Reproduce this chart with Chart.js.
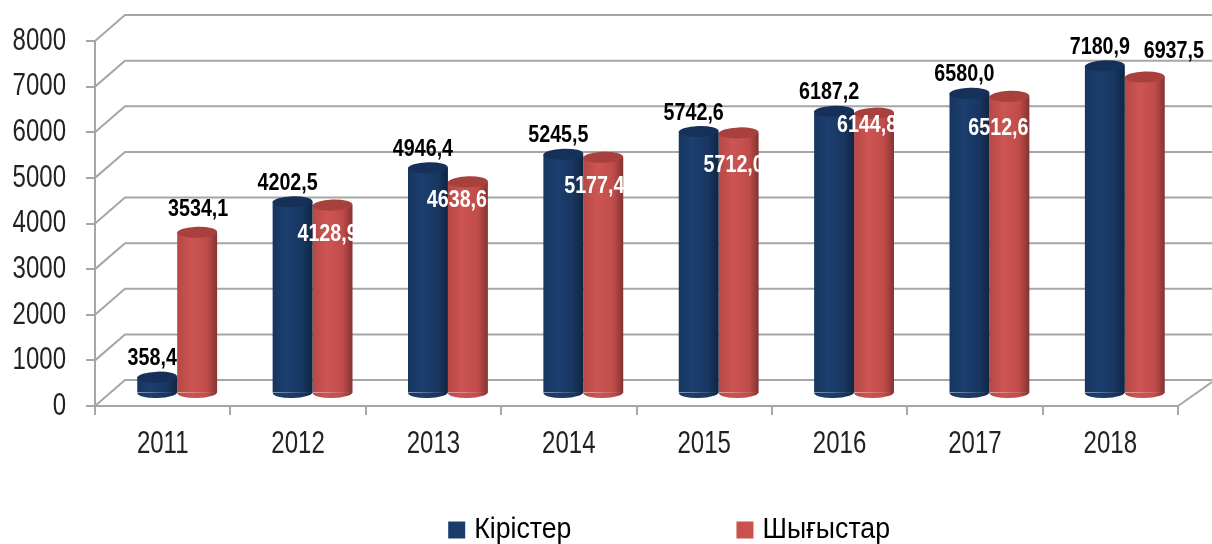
<!DOCTYPE html>
<html>
<head>
<meta charset="utf-8">
<style>
  html, body { margin: 0; padding: 0; background: #fff; }
  canvas { display: block; }
</style>
</head>
<body>
<canvas id="chart" width="1212" height="544"></canvas>
<script src="https://cdn.jsdelivr.net/npm/chart.js@4/dist/chart.umd.min.js"></script>
<script>
// DATA
const years = ['2011', '2012', '2013', '2014', '2015', '2016', '2017', '2018'];
const kirister = [358.4, 4202.5, 4946.4, 5245.5, 5742.6, 6187.2, 6580.0, 7180.9];
const shygystar = [3534.1, 4128.9, 4638.6, 5177.4, 5712.0, 6144.8, 6512.6, 6937.5];
const yTicks = [0, 1000, 2000, 3000, 4000, 5000, 6000, 7000, 8000];

// label placement relative to the top of the red bar
const redLabelDx = [1, -5, -11, -9, -5, -7, -11, 29];
const redLabelDy = [-24, 28, 18, 28, 31, 11, 31, -27];

const FONT = '"Liberation Sans", sans-serif';
const GRID = '#a6a6a6';
const CAT_PCT = 0.59;

// colours: left, light, mid, right, cap
const BLUE = ['#173660', '#1c3f70', '#183660', '#0f2643', '#15315a'];
const RED = ['#b54846', '#cc5552', '#c04c4a', '#853331', '#a8403e'];
const SWATCH = { blue: '#1a3c6b', red: '#c9524f' };

// no narrow font installed: squeeze the text per font size
const squeeze = { 24: 0.82, 32: 0.75, 30: 0.89 };
const canvas = document.getElementById('chart');
const c2d = canvas.getContext('2d');
const rawFillText = c2d.fillText.bind(c2d);
c2d.fillText = (text, x, y, maxWidth) => {
  const size = parseInt(c2d.font.match(/(\d+)px/)[1]);
  const w = c2d.measureText(text).width * (squeeze[size] || 1);
  // legend text sits closer to its swatch than Chart.js puts it
  rawFillText(text, size === 30 ? x - 6 : x, y, maxWidth || w);
};

function barFill(ctx, colors) {
  if (ctx.type !== 'data') return colors[1];
  const xs = ctx.chart.scales.x;
  const step = xs.getPixelForValue(1) - xs.getPixelForValue(0);
  const w = step * CAT_PCT / 2;
  const c = xs.getPixelForValue(ctx.dataIndex);
  const left = ctx.datasetIndex === 0 ? c - w : c;
  const g = ctx.chart.ctx.createLinearGradient(left, 0, left + w, 0);
  g.addColorStop(0, colors[0]);
  g.addColorStop(0.35, colors[1]);
  g.addColorStop(0.75, colors[2]);
  g.addColorStop(1, colors[3]);
  return g;
}

// back wall and floor behind the bars
const wallDx = 30, wallDy = 26;
const wallPlugin = {
  id: 'wall',
  beforeDatasetsDraw(chart) {
    const { ctx, chartArea: a, scales: { y } } = chart;
    ctx.save();
    ctx.strokeStyle = GRID;
    ctx.lineWidth = 2;
    yTicks.forEach(v => {
      const py = y.getPixelForValue(v);
      ctx.beginPath();
      ctx.moveTo(a.left, py);
      ctx.lineTo(a.left + wallDx, py - wallDy);
      ctx.lineTo(chart.width, py - wallDy);
      ctx.stroke();
    });
    ctx.beginPath();
    ctx.moveTo(a.right, a.bottom);
    ctx.lineTo(chart.width, a.bottom - wallDy + 2);
    ctx.stroke();
    ctx.restore();
  }
};

// bars sit inside the depth, caps and bases make them cylinders
const shiftX = 14.5, shiftY = -12.5, capRy = 5.5;
const cylinderPlugin = {
  id: 'cylinder',
  beforeDatasetDraw(chart) {
    chart.ctx.save();
    chart.ctx.translate(shiftX, shiftY);
  },
  afterDatasetDraw(chart, args) {
    const ctx = chart.ctx;
    const colors = args.index === 0 ? BLUE : RED;
    args.meta.data.forEach(el => {
      ctx.fillStyle = el.options.backgroundColor;
      ctx.beginPath();
      ctx.ellipse(el.x, el.base, el.width / 2, capRy, -0.03, 0, Math.PI);
      ctx.fill();
      ctx.fillStyle = colors[4];
      ctx.beginPath();
      ctx.ellipse(el.x, el.y, el.width / 2, capRy, -0.03, 0, Math.PI * 2);
      ctx.fill();
    });
    ctx.restore();
  }
};

// value labels
const fmt = v => v.toFixed(1).replace('.', ',');
const labelPlugin = {
  id: 'valueLabels',
  afterDatasetsDraw(chart) {
    const ctx = chart.ctx;
    ctx.save();
    ctx.font = 'bold 24px ' + FONT;
    ctx.textAlign = 'center';
    ctx.textBaseline = 'middle';
    chart.getDatasetMeta(0).data.forEach((el, i) => {
      ctx.fillStyle = '#000';
      ctx.fillText(fmt(kirister[i]), el.x + shiftX - 5, el.y + shiftY - 18.5);
    });
    chart.getDatasetMeta(1).data.forEach((el, i) => {
      ctx.fillStyle = redLabelDy[i] < 0 ? '#000' : '#fff';
      ctx.fillText(fmt(shygystar[i]), el.x + shiftX + redLabelDx[i], el.y + shiftY + 1 + redLabelDy[i]);
    });
    ctx.restore();
  }
};

// wide gap between legend items, but the legend must not eat the chart height
const LEGEND_GAP = 147;
const legendPlugin = {
  id: 'legendPlace',
  beforeLayout(chart) {
    const leg = chart.legend;
    if (leg && !leg._patched) {
      const fit = leg.fit;
      leg.fit = function () { fit.call(this); this.height = 0; };
      leg._patched = true;
    }
  },
  afterLayout(chart) {
    const leg = chart.legend;
    leg.top = 515 - LEGEND_GAP;
    leg.left = 74;
    leg.right = chart.width + 74;
  }
};

new Chart(c2d, {
  type: 'bar',
  data: {
    labels: years,
    datasets: [
      { label: 'Кірістер', data: kirister, backgroundColor: ctx => barFill(ctx, BLUE) },
      { label: 'Шығыстар', data: shygystar, backgroundColor: ctx => barFill(ctx, RED) }
    ]
  },
  options: {
    responsive: false,
    animation: false,
    categoryPercentage: CAT_PCT,
    barPercentage: 1,
    layout: { padding: { top: 41, right: 34 } },
    plugins: {
      tooltip: { enabled: false },
      legend: {
        position: 'bottom',
        labels: {
          color: '#111',
          font: { family: FONT, size: 30 },
          boxWidth: 17,
          boxHeight: 17,
          padding: LEGEND_GAP,
          generateLabels: () => [
            { text: 'Кірістер', fillStyle: SWATCH.blue, strokeStyle: SWATCH.blue, lineWidth: 0, datasetIndex: 0 },
            { text: 'Шығыстар', fillStyle: SWATCH.red, strokeStyle: SWATCH.red, lineWidth: 0, datasetIndex: 1 }
          ]
        }
      }
    },
    scales: {
      x: {
        afterFit: s => { s.height = 138; },
        border: { color: GRID, width: 2 },
        grid: { drawOnChartArea: false, color: GRID, lineWidth: 2, tickLength: 9 },
        ticks: { color: '#222', padding: 10, font: { family: FONT, size: 32 } }
      },
      y: {
        min: 0,
        max: 8000,
        afterFit: s => { s.width = 95; },
        afterBuildTicks: s => { s.ticks = yTicks.map(v => ({ value: v })); },
        border: { color: GRID, width: 2 },
        grid: { drawOnChartArea: false, color: GRID, lineWidth: 2, tickLength: 9 },
        ticks: { color: '#222', padding: 20, font: { family: FONT, size: 32 }, callback: v => String(v) }
      }
    }
  },
  plugins: [wallPlugin, cylinderPlugin, labelPlugin, legendPlugin]
});
</script>
</body>
</html>
